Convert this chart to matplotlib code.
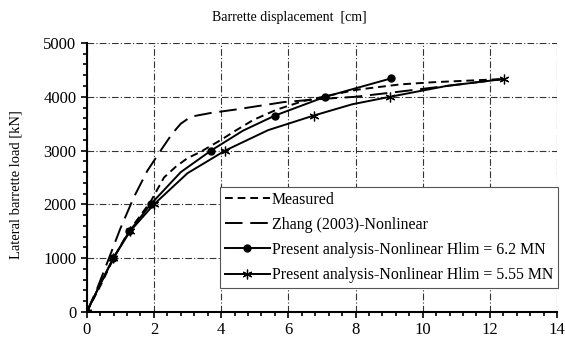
import matplotlib.pyplot as plt
from matplotlib.ticker import MultipleLocator

# values (displacement in cm, load in kN)
meas_x = [0, 0.4, 0.8, 1.25, 1.9, 2.3, 2.65, 3.0, 3.4, 4.0, 4.4, 4.96, 5.65, 6.44, 7.33, 8.03, 9.33, 10.3, 12.4]
meas_y = [0, 480, 1000, 1500, 2050, 2500, 2700, 2860, 2980, 3200, 3360, 3570, 3760, 3920, 4040, 4130, 4230, 4270, 4330]

zhang_x = [0, 0.3, 0.6, 1.0, 1.4, 1.8, 2.2, 2.55, 2.8, 3.1, 3.7, 4.4, 5.85, 7.0, 8.0, 9.1, 10.3, 12.4]
zhang_y = [0, 420, 900, 1550, 2130, 2620, 3000, 3320, 3500, 3630, 3700, 3760, 3900, 3960, 4000, 4080, 4170, 4330]

dot_x = [0, 0.4, 0.79, 1.27, 1.9, 2.8, 3.7, 4.65, 5.6, 7.1, 9.05]
dot_y = [0, 520, 1000, 1500, 2000, 2600, 3000, 3370, 3650, 4000, 4340]
dot_marks = [0, 2, 3, 4, 6, 8, 9, 10]

star_x = [0, 0.4, 0.79, 1.29, 2.0, 3.0, 4.12, 5.4, 6.75, 7.9, 9.03, 10.7, 12.42]
star_y = [0, 510, 1000, 1500, 2000, 2580, 3000, 3380, 3650, 3860, 4000, 4200, 4330]
star_marks = [0, 2, 3, 4, 6, 8, 10, 12]

labels = ["Measured", "Zhang (2003)-Nonlinear",
          "Present analysis-Nonlinear Hlim = 6.2 MN",
          "Present analysis-Nonlinear Hlim = 5.55 MN"]

plt.rcParams['font.family'] = 'Liberation Serif'

fig = plt.figure(figsize=(5.65, 3.41), dpi=100)
ax = fig.add_axes([0.1535, 0.085, 0.8325, 0.789])

ax.plot(meas_x, meas_y, color='black', lw=1.4, dashes=(4, 2.5), label=labels[0])
ax.plot(zhang_x, zhang_y, color='black', lw=1.4, dashes=(9, 4), label=labels[1])
ax.plot(dot_x, dot_y, color='black', lw=1.4, marker='o', ms=5,
        markevery=dot_marks, label=labels[2])
ax.plot(star_x, star_y, color='black', lw=1.4, marker=(6, 2, 0), ms=7, mew=0.9,
        markevery=star_marks, label=labels[3])

ax.set_xlim(0, 14)
ax.set_ylim(0, 5000)
ax.xaxis.set_major_locator(MultipleLocator(2))
ax.xaxis.set_minor_locator(MultipleLocator(0.4))
ax.yaxis.set_major_locator(MultipleLocator(1000))
ax.yaxis.set_minor_locator(MultipleLocator(200))
ax.tick_params(which='both', direction='out', labelsize=12, width=1.2, color='black')
ax.tick_params(which='major', length=4)
ax.tick_params(which='minor', length=3)

ax.grid(True, which='major', color='#333333', lw=0.8, ls=(0, (6, 2, 1, 2)))
for s in ['top', 'right']:
    ax.spines[s].set_visible(False)
for s in ['left', 'bottom']:
    ax.spines[s].set_linewidth(1.5)
ax.set_axisbelow(True)

# title sits left of the axes centre in the original
fig.text(289 / 565, 1 - 18 / 341, "Barrette displacement  [cm]", fontsize=10,
         ha='center', va='center')
ax.set_ylabel("Lateral barrette load [kN]", fontsize=10.5)
ax.yaxis.set_label_coords(-0.137, 0.472)

leg = ax.legend(loc='lower right', bbox_to_anchor=(1.002, 0.09), borderaxespad=0,
                fontsize=11.4, frameon=True, fancybox=False, edgecolor='#555555',
                framealpha=1, handlelength=2.8, handletextpad=0.15,
                labelspacing=0.58, borderpad=0.3)
leg.get_frame().set_linewidth(0.8)

fig.savefig("out.png", dpi=100)
